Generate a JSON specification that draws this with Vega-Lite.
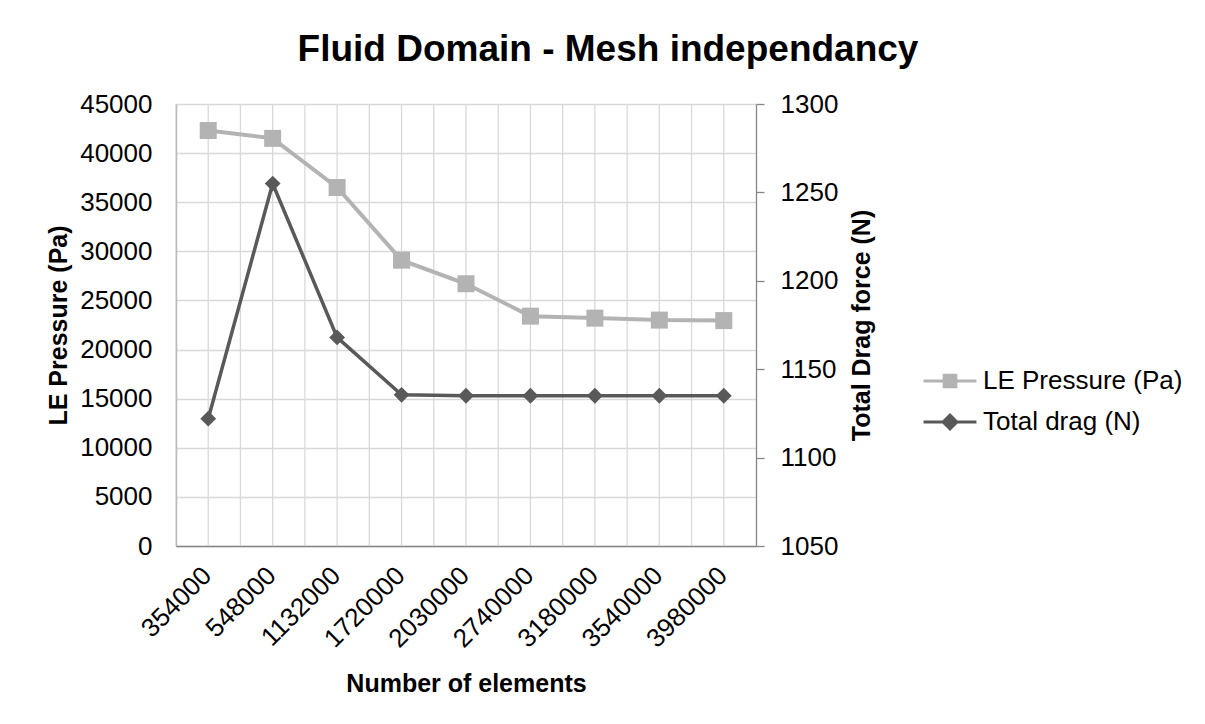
{
  "$schema": "https://vega.github.io/schema/vega-lite/v6.json",
  "width": 580,
  "height": 442,
  "autosize": {"type": "none"},
  "padding": {"left": 176, "top": 104, "right": 449, "bottom": 178},
  "background": "white",
  "config": {
    "font": "Liberation Sans",
    "view": {"stroke": null},
    "axis": {"labelFont": "Liberation Sans", "titleFont": "Liberation Sans", "labelColor": "#000000", "titleColor": "#000000"}
  },
  "title": {
    "text": "Fluid Domain - Mesh independancy",
    "fontSize": 37,
    "fontWeight": "bold",
    "font": "Liberation Sans",
    "color": "#000000",
    "anchor": "middle",
    "frame": "group",
    "dx": 142,
    "baseline": "alphabetic",
    "offset": -7
  },
  "data": {
    "values": [
      {"n": "354000", "pressure": 42300, "drag": 1122},
      {"n": "548000", "pressure": 41500, "drag": 1255},
      {"n": "1132000", "pressure": 36500, "drag": 1168},
      {"n": "1720000", "pressure": 29100, "drag": 1135.5},
      {"n": "2030000", "pressure": 26700, "drag": 1135},
      {"n": "2740000", "pressure": 23400, "drag": 1135},
      {"n": "3180000", "pressure": 23200, "drag": 1135},
      {"n": "3540000", "pressure": 23000, "drag": 1135},
      {"n": "3980000", "pressure": 22950, "drag": 1135}
    ]
  },
  "encoding": {
    "x": {
      "field": "n",
      "type": "nominal",
      "sort": null,
      "scale": {"type": "band", "paddingInner": 0, "paddingOuter": 0},
      "axis": {
        "title": "Number of elements",
        "titleFontSize": 25,
        "titleFontWeight": "bold",
        "titlePadding": 20,
        "labelFontSize": 26,
        "labelAngle": -45,
        "labelPadding": 16,
        "labelOffset": -10,
        "grid": false,
        "ticks": false,
        "domainColor": "#868686",
        "domainWidth": 1.3
      }
    }
  },
  "layer": [
    {
      "mark": {"type": "rule", "color": "#d9d9d9", "strokeWidth": 1.3},
      "encoding": {"x": {"field": "n", "type": "nominal", "sort": null, "bandPosition": 0}}
    },
    {
      "mark": {"type": "rule", "color": "#d9d9d9", "strokeWidth": 1.3},
      "encoding": {"x": {"field": "n", "type": "nominal", "sort": null, "bandPosition": 0.5}}
    },
    {
      "mark": {"type": "line", "strokeWidth": 4, "point": {"shape": "square", "filled": true, "size": 289, "strokeWidth": 0}},
      "encoding": {
        "y": {
          "field": "pressure",
          "type": "quantitative",
          "scale": {"domain": [0, 45000], "nice": false},
          "axis": {
            "orient": "left",
            "title": "LE Pressure (Pa)",
            "titleFontSize": 25,
            "titleFontWeight": "bold",
            "titlePadding": 8,
            "labelFontSize": 26,
            "labelPadding": 24,
            "ticks": false,
            "values": [0, 5000, 10000, 15000, 20000, 25000, 30000, 35000, 40000, 45000],
            "format": "d",
            "grid": true,
            "gridColor": "#d9d9d9",
            "gridWidth": 1.3,
            "domainColor": "#868686",
            "domainWidth": 1.3
          }
        },
        "color": {
          "datum": "LE Pressure (Pa)",
          "type": "nominal",
          "scale": {"domain": ["LE Pressure (Pa)", "Total drag (N)"], "range": ["#b3b3b3", "#595959"]},
          "legend": {
            "title": null,
            "orient": "none",
            "legendX": 746,
            "legendY": 249,
            "padding": 0,
            "labelFontSize": 26,
            "labelFont": "Liberation Sans",
            "labelColor": "#000000",
            "labelOffset": 5,
            "labelLimit": 400,
            "symbolSize": 2800,
            "rowPadding": -7,
            "encode": {
              "symbols": {
                "update": {
                  "shape": {"signal": "datum.value === 'LE Pressure (Pa)' ? 'M-1,0H1M-0.22,-0.22H0.22V0.22H-0.22Z' : 'M-1,0H1M0,-0.26L0.26,0L0,0.26L-0.26,0Z'"},
                  "fill": {"signal": "datum.value === 'LE Pressure (Pa)' ? '#b3b3b3' : '#595959'"},
                  "stroke": {"signal": "datum.value === 'LE Pressure (Pa)' ? '#b3b3b3' : '#595959'"},
                  "strokeWidth": {"value": 3},
                  "opacity": {"value": 1}
                }
              }
            }
          }
        }
      }
    },
    {
      "mark": {"type": "line", "strokeWidth": 3.5, "point": {"shape": "diamond", "filled": true, "size": 250, "strokeWidth": 0}},
      "encoding": {
        "y": {
          "field": "drag",
          "type": "quantitative",
          "scale": {"domain": [1050, 1300], "nice": false, "zero": false},
          "axis": {
            "orient": "right",
            "title": "Total Drag force (N)",
            "titleAngle": -90,
            "titleFontSize": 25,
            "titleFontWeight": "bold",
            "titlePadding": 37,
            "labelFontSize": 26,
            "labelPadding": 16,
            "tickSize": 8,
            "tickColor": "#868686",
            "tickWidth": 1.3,
            "values": [1050, 1100, 1150, 1200, 1250, 1300],
            "format": "d",
            "grid": false,
            "domainColor": "#868686",
            "domainWidth": 1.3
          }
        },
        "color": {"datum": "Total drag (N)", "type": "nominal"}
      }
    }
  ],
  "resolve": {"scale": {"y": "independent"}}
}
